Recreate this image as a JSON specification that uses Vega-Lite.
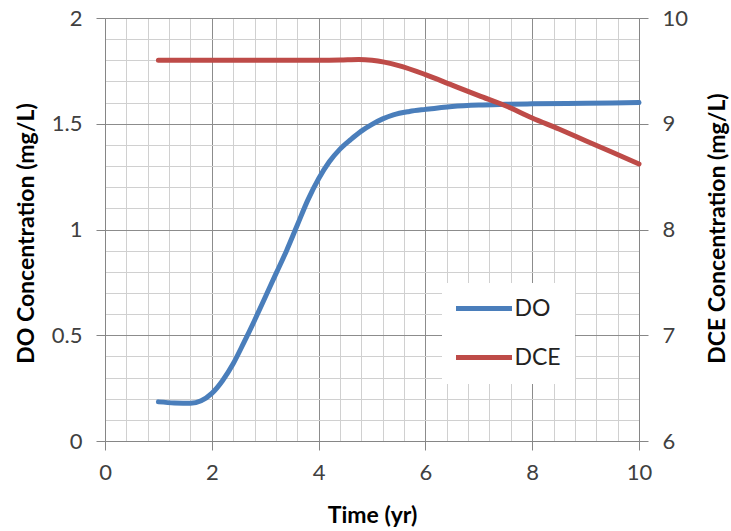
{
  "$schema": "https://vega.github.io/schema/vega-lite/v6.json",
  "width": 534,
  "height": 423,
  "autosize": "none",
  "padding": {"left": 105, "top": 18, "right": 92, "bottom": 90},
  "config": {
    "font": "Lato",
    "view": {"stroke": null},
    "axis": {
      "domainColor": "#868686",
      "tickColor": "#868686",
      "tickSize": 9,
      "labelColor": "#404040",
      "labelFontSize": 22,
      "labelOverlap": false,
      "labelFlush": false,
      "titleFontSize": 23,
      "titleFontWeight": "bold",
      "titleColor": "#000000",
      "titleBaseline": "alphabetic"
    },
    "legend": {
      "orient": "none",
      "legendX": 337,
      "legendY": 265,
      "fillColor": "#ffffff",
      "padding": 14,
      "symbolType": "M-5.6,0H5.6",
      "symbolSize": 100,
      "symbolStrokeWidth": 5,
      "symbolOffset": 16.5,
      "labelOffset": 19,
      "labelFontSize": 23,
      "labelColor": "#222222",
      "rowPadding": 25
    }
  },
  "data": {
    "values": [
      {"Time": 1.0, "Series": "DO", "Value": 0.185},
      {"Time": 1.3, "Series": "DO", "Value": 0.18},
      {"Time": 1.6, "Series": "DO", "Value": 0.178},
      {"Time": 1.8, "Series": "DO", "Value": 0.19},
      {"Time": 2.0, "Series": "DO", "Value": 0.225},
      {"Time": 2.2, "Series": "DO", "Value": 0.285},
      {"Time": 2.4, "Series": "DO", "Value": 0.365},
      {"Time": 2.6, "Series": "DO", "Value": 0.465},
      {"Time": 2.8, "Series": "DO", "Value": 0.57},
      {"Time": 3.0, "Series": "DO", "Value": 0.68},
      {"Time": 3.2, "Series": "DO", "Value": 0.79},
      {"Time": 3.4, "Series": "DO", "Value": 0.9},
      {"Time": 3.6, "Series": "DO", "Value": 1.02},
      {"Time": 3.8, "Series": "DO", "Value": 1.14},
      {"Time": 4.0, "Series": "DO", "Value": 1.24},
      {"Time": 4.2, "Series": "DO", "Value": 1.32},
      {"Time": 4.4, "Series": "DO", "Value": 1.38},
      {"Time": 4.6, "Series": "DO", "Value": 1.425},
      {"Time": 4.8, "Series": "DO", "Value": 1.465},
      {"Time": 5.0, "Series": "DO", "Value": 1.497},
      {"Time": 5.2, "Series": "DO", "Value": 1.523},
      {"Time": 5.4, "Series": "DO", "Value": 1.542},
      {"Time": 5.7, "Series": "DO", "Value": 1.558},
      {"Time": 6.0, "Series": "DO", "Value": 1.568},
      {"Time": 6.5, "Series": "DO", "Value": 1.582},
      {"Time": 7.0, "Series": "DO", "Value": 1.589},
      {"Time": 7.5, "Series": "DO", "Value": 1.592},
      {"Time": 8.0, "Series": "DO", "Value": 1.594},
      {"Time": 9.0, "Series": "DO", "Value": 1.597},
      {"Time": 10.0, "Series": "DO", "Value": 1.6},
      {"Time": 1.0, "Series": "DCE", "Value": 9.6},
      {"Time": 2.0, "Series": "DCE", "Value": 9.6},
      {"Time": 3.0, "Series": "DCE", "Value": 9.6},
      {"Time": 4.0, "Series": "DCE", "Value": 9.6},
      {"Time": 4.4, "Series": "DCE", "Value": 9.602},
      {"Time": 4.75, "Series": "DCE", "Value": 9.607},
      {"Time": 5.0, "Series": "DCE", "Value": 9.6},
      {"Time": 5.5, "Series": "DCE", "Value": 9.55},
      {"Time": 6.0, "Series": "DCE", "Value": 9.465},
      {"Time": 6.5, "Series": "DCE", "Value": 9.365},
      {"Time": 7.0, "Series": "DCE", "Value": 9.266},
      {"Time": 7.5, "Series": "DCE", "Value": 9.17},
      {"Time": 8.0, "Series": "DCE", "Value": 9.055},
      {"Time": 8.5, "Series": "DCE", "Value": 8.95},
      {"Time": 9.0, "Series": "DCE", "Value": 8.84},
      {"Time": 9.5, "Series": "DCE", "Value": 8.73},
      {"Time": 10.0, "Series": "DCE", "Value": 8.62}
    ]
  },
  "encoding": {
    "x": {
      "field": "Time",
      "type": "quantitative",
      "scale": {"domain": [0, 10], "nice": false},
      "axis": {
        "title": "Time (yr)",
        "values": [0, 0.4, 0.8, 1.2, 1.6, 2, 2.4, 2.8, 3.2, 3.6, 4, 4.4, 4.8, 5.2, 5.6, 6, 6.4, 6.8, 7.2, 7.6, 8, 8.4, 8.8, 9.2, 9.6, 10],
        "format": "~g",
        "labelExpr": "abs(datum.value / 2 - round(datum.value / 2)) < 0.001 ? datum.label : ''",
        "tickOpacity": {"condition": {"test": "abs(datum.value / 2 - round(datum.value / 2)) < 0.001", "value": 1}, "value": 0},
        "gridColor": {"condition": {"test": "abs(datum.value / 2 - round(datum.value / 2)) < 0.001", "value": "#8c8c8c"}, "value": "#d0d0d0"},
        "labelPadding": 12,
        "titleY": 81
      }
    },
    "color": {
      "field": "Series",
      "type": "nominal",
      "scale": {"domain": ["DO", "DCE"], "range": ["#4a7ebb", "#be4b48"]},
      "legend": {"title": null}
    }
  },
  "layer": [
    {
      "transform": [{"filter": "datum.Series === 'DO'"}],
      "mark": {"type": "line", "interpolate": "monotone", "strokeWidth": 5, "strokeCap": "round"},
      "encoding": {
        "y": {
          "field": "Value",
          "type": "quantitative",
          "scale": {"domain": [0, 2], "nice": false},
          "axis": {
            "title": "DO Concentration (mg/L)",
            "orient": "left",
            "values": [0, 0.1, 0.2, 0.3, 0.4, 0.5, 0.6, 0.7, 0.8, 0.9, 1, 1.1, 1.2, 1.3, 1.4, 1.5, 1.6, 1.7, 1.8, 1.9, 2],
            "format": "~g",
            "labelExpr": "abs(datum.value * 2 - round(datum.value * 2)) < 0.001 ? datum.label : ''",
            "tickOpacity": {"condition": {"test": "abs(datum.value * 2 - round(datum.value * 2)) < 0.001", "value": 1}, "value": 0},
            "gridColor": {"condition": {"test": "abs(datum.value * 2 - round(datum.value * 2)) < 0.001", "value": "#8c8c8c"}, "value": "#d0d0d0"},
            "labelPadding": 14,
            "titleAngle": 270,
            "titleX": -72,
            "titleY": 215
          }
        }
      }
    },
    {
      "transform": [{"filter": "datum.Series === 'DCE'"}],
      "mark": {"type": "line", "interpolate": "monotone", "strokeWidth": 5, "strokeCap": "round"},
      "encoding": {
        "y": {
          "field": "Value",
          "type": "quantitative",
          "scale": {"domain": [6, 10], "nice": false},
          "axis": {
            "title": "DCE Concentration (mg/L)",
            "orient": "right",
            "values": [6, 7, 8, 9, 10],
            "format": "d",
            "grid": false,
            "labelPadding": 14,
            "titleAngle": 270,
            "titleX": 85,
            "titleY": 210
          }
        }
      }
    }
  ],
  "resolve": {"scale": {"y": "independent"}}
}
